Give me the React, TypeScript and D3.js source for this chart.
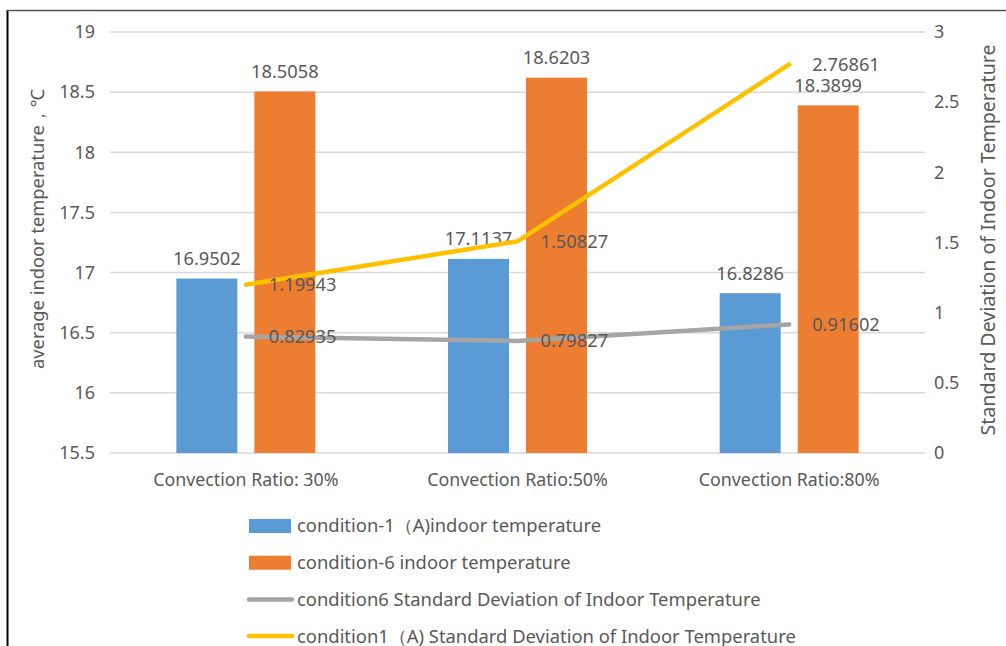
import React from "react";
import * as d3 from "d3";

// Categories and series values
const categories = ["Convection Ratio: 30%", "Convection Ratio:50%", "Convection Ratio:80%"];
const cond1Temp = [16.9502, 17.1137, 16.8286];
const cond6Temp = [18.5058, 18.6203, 18.3899];
const cond6Std = [0.82935, 0.79827, 0.91602];
const cond1Std = [1.19943, 1.50827, 2.76861];

const leftTicks = [15.5, 16, 16.5, 17, 17.5, 18, 18.5, 19];
const rightTicks = [0, 0.5, 1, 1.5, 2, 2.5, 3];

const barSeries = [
  { name: "condition-1（A)indoor temperature", values: cond1Temp, color: "#5B9BD5" },
  { name: "condition-6 indoor temperature", values: cond6Temp, color: "#ED7D31" },
];
const lineSeries = [
  { name: "condition6 Standard Deviation of Indoor Temperature", values: cond6Std, color: "#A5A5A5" },
  { name: "condition1（A) Standard Deviation of Indoor Temperature", values: cond1Std, color: "#FFC000" },
];

const W = 1006;
const H = 646;
const FONT = "'Noto Sans', 'DejaVu Sans', sans-serif";
const TEXT = "#595959";

export default function App() {
  const left = 110;
  const right = 925;
  const top = 32;
  const bottom = 453;

  const yL = d3.scaleLinear().domain([15.5, 19]).range([bottom, top]);
  const yR = d3.scaleLinear().domain([0, 3]).range([bottom, top]);
  const x0 = d3.scaleBand<string>().domain(categories).range([left, right]);
  const groupW = 139;
  const x1 = d3
    .scaleBand<number>()
    .domain(barSeries.map((_, i) => i))
    .range([0, groupW])
    .paddingInner(0.218);
  const groupOff = (x0.bandwidth() - groupW) / 2;
  const cx = (c: string) => (x0(c) as number) + x0.bandwidth() / 2;

  const line = d3
    .line<number>()
    .x((_, i) => cx(categories[i]))
    .y((v) => yR(v));

  const legendItems = [
    ...barSeries.map((s) => ({ ...s, kind: "bar" })),
    ...lineSeries.map((s) => ({ ...s, kind: "line" })),
  ];

  return (
    <svg
      width={W}
      height={H}
      style={{ position: "absolute", left: 0, top: 0, background: "#fff" }}
      fontFamily={FONT}
    >
      <rect x={0} y={0} width={W} height={H} fill="#fff" />
      {/* frame */}
      <line x1={7.5} y1={10} x2={7.5} y2={H} stroke="#000" strokeWidth={2} />
      <line x1={7} y1={10.5} x2={W} y2={10.5} stroke="#555" strokeWidth={1.5} />

      {/* gridlines */}
      {leftTicks.map((t) => (
        <line key={t} x1={left} x2={right} y1={yL(t)} y2={yL(t)} stroke="#D9D9D9" strokeWidth={1.5} />
      ))}

      {/* left ticks */}
      {leftTicks.map((t) => (
        <text key={t} x={95} y={yL(t)} dy="0.35em" textAnchor="end" fontSize={18} fill={TEXT}>
          {t}
        </text>
      ))}
      {/* right ticks */}
      {rightTicks.map((t) => (
        <text key={t} x={934} y={yR(t)} dy="0.35em" textAnchor="start" fontSize={18} fill={TEXT}>
          {t}
        </text>
      ))}

      {/* axis titles */}
      <text
        transform="translate(38,229) rotate(-90)"
        textAnchor="middle"
        dy="0.35em"
        fontSize={18.3}
        fill={TEXT}
      >
        average indoor temperature，℃
      </text>
      <text
        transform="translate(988,240) rotate(-90)"
        textAnchor="middle"
        dy="0.35em"
        fontSize={19.6}
        fill={TEXT}
      >
        Standard Deviation of Indoor Temperature
      </text>

      {/* bars */}
      {barSeries.map((s, si) =>
        s.values.map((v, i) => {
          const bx = (x0(categories[i]) as number) + groupOff + (x1(si) as number);
          return (
            <g key={`${si}-${i}`}>
              <rect x={bx} y={yL(v)} width={x1.bandwidth()} height={bottom - yL(v)} fill={s.color} />
              <text
                x={bx + x1.bandwidth() / 2}
                y={yL(v) - 20}
                textAnchor="middle"
                dy="0.35em"
                fontSize={18.3}
                fill={TEXT}
              >
                {v}
              </text>
            </g>
          );
        })
      )}

      {/* category labels */}
      {categories.map((c) => (
        <text key={c} x={cx(c)} y={480} dy="0.35em" textAnchor="middle" fontSize={17.8} fill={TEXT}>
          {c}
        </text>
      ))}

      {/* lines */}
      {lineSeries.map((s, si) => (
        <g key={si}>
          <path
            d={line(s.values) as string}
            fill="none"
            stroke={s.color}
            strokeWidth={4.5}
            strokeLinecap="round"
            strokeLinejoin="round"
          />
          {s.values.map((v, i) => (
            <text
              key={i}
              x={cx(categories[i]) + 23}
              y={yR(v)}
              dy="0.35em"
              textAnchor="start"
              fontSize={18.3}
              fill={TEXT}
            >
              {v}
            </text>
          ))}
        </g>
      ))}

      {/* legend */}
      {legendItems.map((it, i) => {
        const ly = 526 + i * 36.7;
        return (
          <g key={it.name}>
            {it.kind === "bar" ? (
              <rect x={249} y={ly - 7} width={42} height={14} fill={it.color} />
            ) : (
              <line x1={249} x2={292} y1={ly} y2={ly} stroke={it.color} strokeWidth={4.5} strokeLinecap="round" />
            )}
            <text x={297} y={ly} dy="0.35em" fontSize={18.4} fill={TEXT}>
              {it.name}
            </text>
          </g>
        );
      })}
    </svg>
  );
}
